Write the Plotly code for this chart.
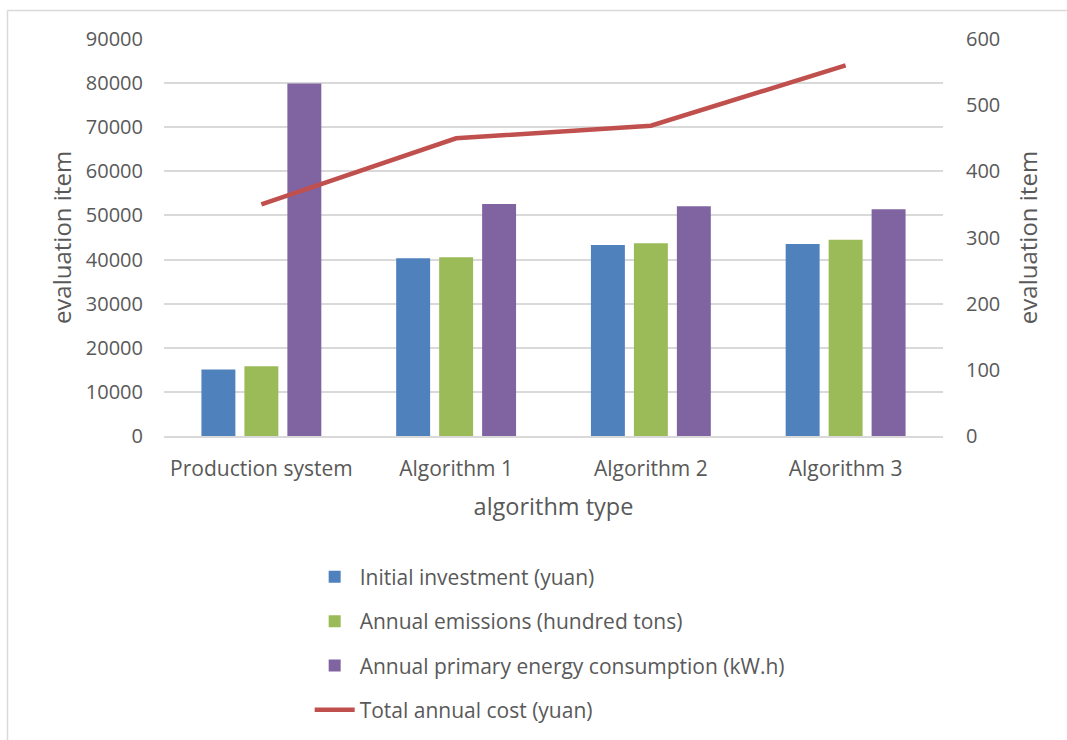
import plotly.graph_objects as go

categories = ["Production system", "Algorithm 1", "Algorithm 2", "Algorithm 3"]
initial_investment = [15100, 40300, 43300, 43500]
annual_emissions = [15800, 40500, 43700, 44500]
energy_consumption = [79900, 52600, 52100, 51400]
total_annual_cost = [350, 450, 469, 560]

left_ticks = list(range(0, 90001, 10000))
right_ticks = list(range(0, 601, 100))

TXT = "#595959"
GRID = "#D9D9D9"
FONT = "Open Sans"

fig = go.Figure()
fig.add_trace(go.Bar(x=categories, y=initial_investment, name="Initial investment (yuan)",
                     marker=dict(color="#4F81BD", line=dict(width=0)), legendgroup="a"))
fig.add_trace(go.Bar(x=categories, y=annual_emissions, name="Annual emissions (hundred tons)",
                     marker=dict(color="#9BBB59", line=dict(width=0)), legendgroup="b"))
fig.add_trace(go.Bar(x=categories, y=energy_consumption, name="Annual primary energy consumption (kW.h)",
                     marker=dict(color="#8064A2", line=dict(width=0)), legendgroup="c"))
fig.add_trace(go.Scatter(x=categories, y=total_annual_cost, name="Total annual cost (yuan)",
                         mode="lines", line=dict(color="#C0504D", width=4.5), yaxis="y2", legendgroup="d"))

W, H = 1067, 740
L, R, T, B = 164, 1067 - 943, 39, 740 - 436

fig.update_layout(
    width=W, height=H,
    margin=dict(l=L, r=R, t=T, b=B, autoexpand=False),
    paper_bgcolor="white", plot_bgcolor="white",
    font=dict(family=FONT, color=TXT, size=20),
    barmode="group", bargap=0.338, bargroupgap=0.21,
    xaxis=dict(
        tickfont=dict(size=21, color=TXT), showgrid=False,
        showline=True, linecolor=GRID, linewidth=1.5,
        ticks="", ticklabelstandoff=13,
        title=dict(text="algorithm type", font=dict(size=23.5, color=TXT), standoff=18),
    ),
    yaxis=dict(
        range=[0, 90000], tickvals=left_ticks, ticktext=[str(v) for v in left_ticks],
        tickfont=dict(size=20, color=TXT), showgrid=True, gridcolor=GRID, gridwidth=1.5,
        zeroline=False, showline=False, ticks="", ticklabelstandoff=20,
        title=dict(text="evaluation item", font=dict(size=24, color=TXT), standoff=7),
    ),
    yaxis2=dict(
        range=[0, 600], tickvals=right_ticks, ticktext=[str(v) for v in right_ticks],
        overlaying="y", side="right",
        tickfont=dict(size=20, color=TXT), showgrid=False,
        zeroline=False, showline=False, ticks="", ticklabelstandoff=22,
        title=dict(text="evaluation item", font=dict(size=24, color=TXT), standoff=20),
    ),
    legend=dict(
        x=0.187, y=-0.304, xanchor="left", yanchor="top",
        orientation="v", tracegroupgap=14,
        font=dict(size=21, color=TXT), bgcolor="rgba(0,0,0,0)",
        itemwidth=40,
    ),
    showlegend=True,
)

# chart border (top and left edges visible in the reference)
fig.add_shape(type="line", xref="paper", yref="paper",
              x0=(7.5 - L) / (W - L - R), x1=(W + 5 - L) / (W - L - R),
              y0=(H - B - 10.5) / (H - T - B), y1=(H - B - 10.5) / (H - T - B),
              line=dict(color="#D9D9D9", width=1.5))
fig.add_shape(type="line", xref="paper", yref="paper",
              x0=(7.5 - L) / (W - L - R), x1=(7.5 - L) / (W - L - R),
              y0=(H - B - 10.5) / (H - T - B), y1=(H - B - H - 5) / (H - T - B),
              line=dict(color="#D9D9D9", width=1.5))

fig.write_html("out.html")
